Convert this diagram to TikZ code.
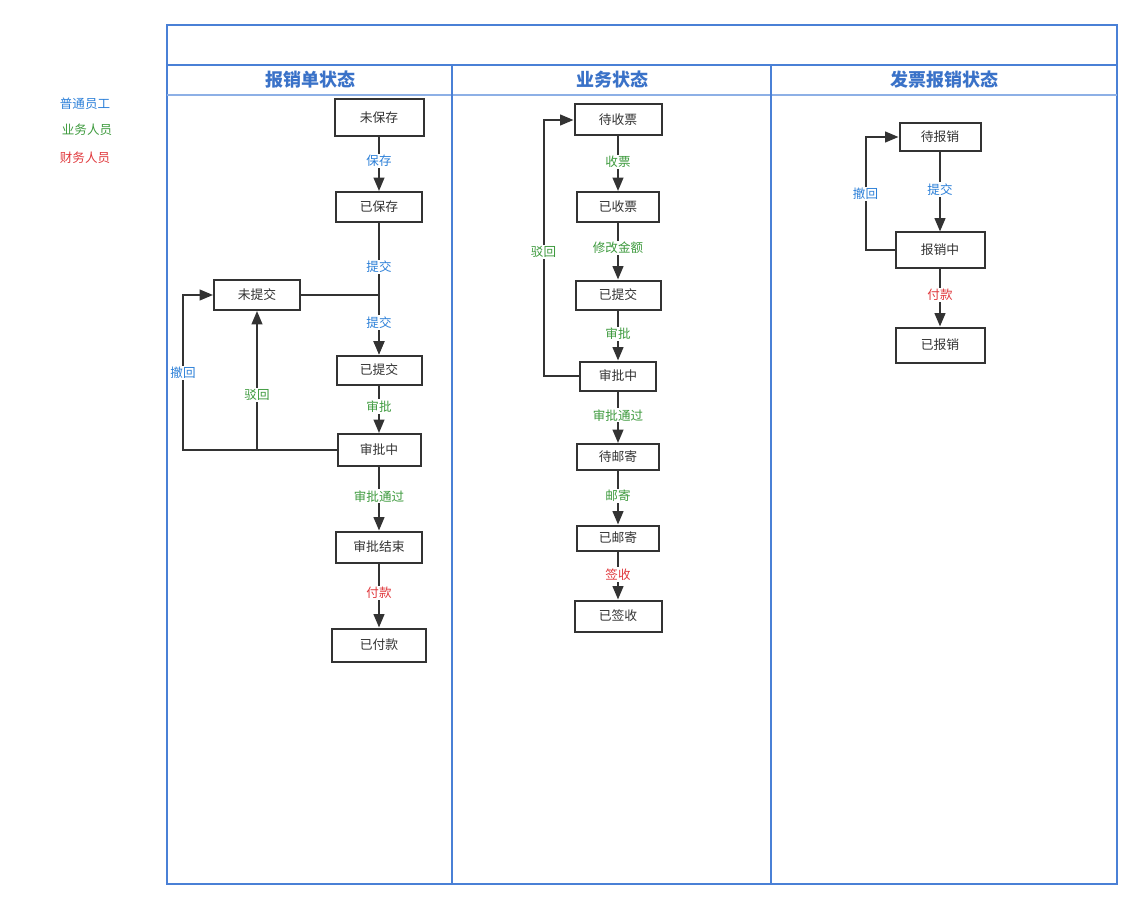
\documentclass[tikz,border=0pt]{standalone}
\usepackage{fontspec}
\setmainfont{Noto Sans CJK SC}
\usetikzlibrary{arrows.meta,calc}
\definecolor{framec}{HTML}{4A80D6}
\definecolor{framel}{HTML}{8DB0E6}
\definecolor{hdr}{HTML}{3A72C8}
\definecolor{eblue}{HTML}{2B7FD8}
\definecolor{egreen}{HTML}{3D9A3D}
\definecolor{ered}{HTML}{E0383C}
\definecolor{boxc}{HTML}{333333}
\newdimen\pxu \pxu=0.75pt
\tikzset{
  statebox/.style 2 args={draw=boxc, line width=1.5pt, fill=white, text=boxc,
    minimum width=#1\pxu, minimum height=#2\pxu, inner sep=0pt,
    font=\fontsize{9.6pt}{11pt}\selectfont},
  arr/.style={draw=boxc, line width=1.5pt, -{Triangle[length=10pt 0,width=8pt 0]}},
  lbl/.style={fill=white, inner sep=1pt, font=\fontsize{9.4pt}{11pt}\selectfont},
  lb/.style={lbl, text=eblue},
  lg/.style={lbl, text=egreen},
  lr/.style={lbl, text=ered},
  hdrtext/.style={text=hdr, font=\fontsize{13.5pt}{16pt}\selectfont\bfseries},
  legend/.style={font=\fontsize{9.4pt}{11pt}\selectfont}
}
\begin{document}
\begin{tikzpicture}[x=0.75pt,y=-0.75pt]
\useasboundingbox (0,0) rectangle (1141,909);
% frame
\draw[framec, line width=1pt] (167,25) rectangle (1117,884);
\draw[framec, line width=0.9pt] (167,65) -- (1117,65);
\draw[framel, line width=1.2pt] (167,95) -- (1117,95);
\draw[framec, line width=0.9pt] (452,65) -- (452,884);
\draw[framec, line width=0.9pt] (771,65) -- (771,884);
% headers
\node[hdrtext] (h1) at (310,80) {报销单状态};
\node[hdrtext] (h2) at (612,80) {业务状态};
\node[hdrtext] (h3) at (944,80) {发票报销状态};
% legend
\node[legend, text=eblue] (lg1) at (85,104) {普通员工};
\node[legend, text=egreen] (lg2) at (87,130) {业务人员};
\node[legend, text=ered] (lg3) at (85,158) {财务人员};
% left lane
\node[statebox={89}{37}] (n1) at (379,118) {未保存};
\node[statebox={86}{30}] (n2) at (379,207) {已保存};
\node[statebox={86}{30}] (n3) at (257,295) {未提交};
\node[statebox={85}{29}] (n4) at (379,370) {已提交};
\node[statebox={83}{32}] (n5) at (379,450) {审批中};
\node[statebox={86}{31}] (n6) at (379,547) {审批结束};
\node[statebox={94}{33}] (n7) at (379,645) {已付款};
\draw[arr] (n1) -- (n2) node[lb,pos=0.44] {保存};
\draw[arr] (n2) -- (n4) node[lb,pos=0.336] {提交};
\draw[arr] (n3.east) -| (n4.north) node[lb,pos=0.73] {提交};
\draw[arr] (n4) -- (n5) node[lg,pos=0.44] {审批};
\draw[arr] (n5.west) -| (n3.south) node[lg,pos=0.698] {驳回};
\draw[arr] (n5.west) -| ($(n3.west)+(-30,0)$) node[lb,pos=0.748] {撤回} -- (n3.west);
\draw[arr] (n5) -- (n6) node[lg,pos=0.46] {审批通过};
\draw[arr] (n6) -- (n7) node[lr,pos=0.46] {付款};
% middle lane
\node[statebox={87}{31}] (m1) at (618,120) {待收票};
\node[statebox={82}{30}] (m2) at (618,207) {已收票};
\node[statebox={85}{29}] (m3) at (618,295) {已提交};
\node[statebox={76}{29}] (m4) at (618,376) {审批中};
\node[statebox={82}{26}] (m5) at (618,457) {待邮寄};
\node[statebox={82}{25}] (m6) at (618,538) {已邮寄};
\node[statebox={87}{31}] (m7) at (618,616) {已签收};
\draw[arr] (m1) -- (m2) node[lg,pos=0.47] {收票};
\draw[arr] (m2) -- (m3) node[lg,pos=0.44] {修改金额};
\draw[arr] (m3) -- (m4) node[lg,pos=0.47] {审批};
\draw[arr] (m4.west) -| ($(m1.west)+(-30,0)$) node[lg,pos=0.742] {驳回} -- (m1.west);
\draw[arr] (m4) -- (m5) node[lg,pos=0.46] {审批通过};
\draw[arr] (m5) -- (m6) node[lg,pos=0.47] {邮寄};
\draw[arr] (m6) -- (m7) node[lr,pos=0.48] {签收};
% right lane
\node[statebox={81}{28}] (r1) at (940,137) {待报销};
\node[statebox={89}{35}] (r2) at (940,250) {报销中};
\node[statebox={89}{35}] (r3) at (940,345) {已报销};
\draw[arr] (r1) -- (r2) node[lb,pos=0.47] {提交};
\draw[arr] (r2.west) -| ($(r1.west)+(-33,0)$) node[lb,pos=0.748] {撤回} -- (r1.west);
\draw[arr] (r2) -- (r3) node[lr,pos=0.46] {付款};
\end{tikzpicture}
\end{document}
